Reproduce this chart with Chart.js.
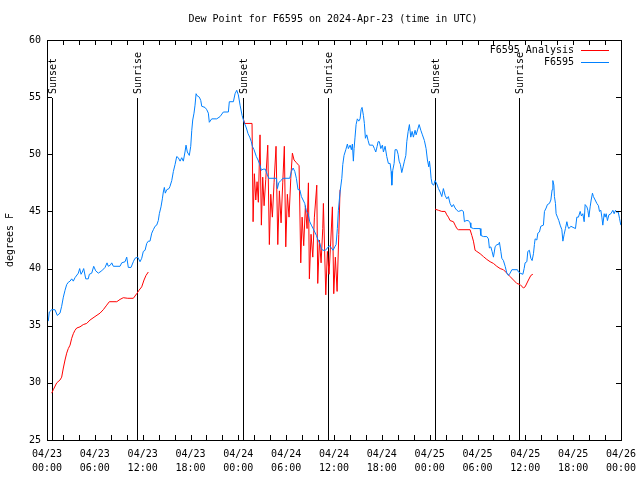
<!DOCTYPE html>
<html>
<head>
<meta charset="utf-8">
<title>Dew Point for F6595</title>
<script src="https://cdn.jsdelivr.net/npm/chart.js@4.4.1/dist/chart.umd.min.js"></script>
<style>
  html, body { margin: 0; padding: 0; background: #fff; }
  canvas { display: block; }
</style>
</head>
<body>
<canvas id="chart" width="640" height="480"></canvas>
<script>
// time is hours since 04/23 00:00 UTC
const obsHours = [
  0.16, 0.29, 0.59, 1.00, 1.29, 1.63, 1.84, 2.05, 2.26, 2.47,
  2.67, 2.89, 3.10, 3.30, 3.51, 3.93, 4.10, 4.27, 4.43, 4.60,
  4.86, 5.18, 5.31, 5.61, 5.86, 6.11, 6.44, 6.86, 7.28, 7.53,
  7.69, 7.94, 8.12, 8.32, 9.16, 9.37, 9.79, 10.00, 10.20, 10.54,
  10.83, 11.04, 11.38, 11.67, 11.88, 12.08, 12.30, 12.51, 12.71, 12.92,
  13.14, 13.34, 13.55, 13.76, 13.96, 14.09, 14.30, 14.47, 14.59, 14.72,
  14.84, 15.02, 15.31, 15.43, 15.65, 15.85, 16.06, 16.27, 16.47, 16.69,
  16.90, 17.10, 17.31, 17.44, 17.60, 17.85, 18.03, 18.16, 18.28, 18.44,
  18.57, 18.70, 18.86, 19.11, 19.29, 19.41, 19.82, 20.04, 20.24, 20.36,
  20.66, 21.29, 21.71, 22.12, 22.75, 22.87, 23.38, 23.59, 23.80, 24.00,
  24.22, 24.47, 24.72, 25.01, 25.22, 25.43, 25.63, 25.76, 25.97, 26.26,
  26.47, 26.69, 26.89, 27.10, 27.39, 27.64, 27.82, 28.77, 28.90, 29.07,
  29.32, 29.61, 30.45, 30.65, 30.87, 31.08, 31.28, 31.49, 31.71, 31.91,
  32.12, 32.33, 32.53, 32.75, 32.96, 33.16, 33.38, 33.59, 33.79, 34.00,
  34.22, 34.42, 34.63, 34.92, 35.17, 35.42, 35.67, 35.88, 36.10, 36.26,
  36.42, 36.55, 36.76, 36.98, 37.10, 37.26, 37.48, 37.68, 37.80, 38.02,
  38.18, 38.31, 38.43, 38.52, 38.64, 38.77, 38.93, 39.11, 39.27, 39.40,
  39.52, 39.69, 39.81, 39.94, 40.11, 40.28, 40.44, 40.87, 41.07, 41.24,
  41.41, 41.53, 41.69, 41.87, 42.07, 42.20, 42.41, 42.62, 42.82, 43.04,
  43.16, 43.25, 43.37, 43.54, 43.66, 43.88, 44.04, 44.17, 44.33, 44.50,
  44.67, 44.83, 45.01, 45.13, 45.30, 45.46, 45.63, 45.80, 45.96, 46.17,
  46.30, 46.51, 46.68, 46.89, 47.09, 47.34, 47.55, 47.72, 47.89, 47.97,
  48.06, 48.18, 48.31, 48.52, 48.68, 48.90, 49.10, 49.31, 49.52, 49.72,
  49.94, 50.15, 50.35, 50.56, 50.78, 50.98, 51.19, 51.41, 51.61, 52.03,
  52.23, 52.36, 52.57, 52.86, 53.07, 53.16, 53.49, 54.33, 54.42, 54.74,
  55.17, 55.37, 55.49, 55.67, 55.83, 56.00, 56.21, 56.42, 56.62, 56.75,
  56.93, 57.05, 57.25, 57.47, 57.68, 57.88, 58.09, 58.31, 59.01, 59.14,
  59.35, 59.69, 59.85, 59.97, 60.19, 60.31, 60.51, 60.69, 60.85, 61.02,
  61.14, 61.23, 61.44, 61.57, 61.77, 61.94, 62.27, 62.40, 62.61, 62.77,
  63.02, 63.20, 63.36, 63.45, 63.58, 63.65, 63.78, 63.86, 64.03, 64.20,
  64.37, 64.58, 64.71, 64.87, 65.03, 65.21, 65.33, 65.46, 65.71, 66.29,
  66.46, 66.66, 66.88, 67.04, 67.21, 67.38, 67.50, 67.72, 67.84, 67.97,
  68.13, 68.26, 68.42, 68.54, 68.76, 68.97, 69.17, 69.30, 69.47, 69.60,
  69.72, 69.89, 70.01, 70.14, 70.30, 70.48, 70.73, 70.98, 71.14, 71.31,
  71.48, 71.64, 71.81, 71.98
];
const obsDew = [
  35.4, 36.2, 36.4, 36.4, 35.9, 36.1, 36.7, 37.5, 38.1, 38.6,
  38.8, 38.9, 39.1, 38.9, 39.2, 39.6, 40.0, 39.5, 39.7, 40.0,
  39.1, 39.1, 39.5, 39.6, 40.2, 39.8, 39.6, 39.8, 40.1, 40.5,
  40.2, 40.3, 40.5, 40.2, 40.2, 40.5, 40.6, 41.0, 40.1, 40.1,
  40.6, 40.9, 41.0, 40.6, 40.9, 41.5, 41.6, 42.2, 42.4, 42.4,
  43.1, 43.4, 43.7, 43.8, 44.2, 44.8, 45.4, 46.1, 46.7, 47.1,
  46.6, 46.9, 47.0, 47.2, 47.7, 48.5, 49.1, 49.8, 49.7, 49.4,
  49.7, 49.4, 50.2, 50.8, 50.2, 49.9, 50.7, 52.1, 53.0, 53.6,
  54.3, 55.3, 55.1, 55.0, 54.7, 54.2, 54.1, 53.9, 53.6, 52.8,
  53.1, 53.1, 53.3, 53.7, 53.7, 54.6, 54.6, 55.3, 55.6, 55.2,
  54.3, 53.4, 52.8, 52.3, 51.8, 51.5, 51.1, 50.7, 50.4, 49.8,
  49.5, 49.1, 48.6, 48.7, 48.7, 48.2, 47.9, 47.9, 47.0, 47.5,
  47.7, 47.9, 47.9, 48.5, 48.8, 48.5, 47.9, 46.9, 46.9, 46.3,
  46.0, 45.7, 45.0, 44.8, 44.1, 43.8, 43.5, 43.2, 42.9, 42.5,
  42.2, 41.7, 41.6, 41.6, 41.8, 42.0, 41.8, 41.6, 41.9, 42.1,
  43.5, 45.1, 46.7, 47.9, 49.1, 49.9, 50.4, 50.9, 50.5, 50.8,
  50.4, 50.9, 49.4, 50.5, 51.5, 52.6, 53.1, 52.9, 53.1, 53.9,
  54.1, 53.4, 52.7, 51.4, 51.7, 51.2, 50.8, 50.8, 50.5, 50.2,
  50.7, 51.1, 51.1, 50.5, 50.8, 50.2, 50.7, 49.8, 49.2, 49.2,
  48.5, 47.3, 48.6, 49.2, 50.4, 50.4, 50.0, 49.4, 49.1, 48.4,
  48.9, 49.4, 49.9, 51.1, 52.0, 52.6, 51.5, 52.0, 51.5, 52.1,
  51.7, 52.2, 52.6, 52.1, 51.7, 51.2, 50.5, 49.5, 48.9, 49.4,
  48.9, 47.9, 47.4, 47.3, 47.7, 47.4, 47.0, 46.7, 46.3, 47.0,
  46.4, 46.1, 46.3, 45.7, 45.4, 45.6, 45.3, 45.1, 45.0, 45.1,
  45.0, 44.1, 44.2, 44.2, 44.0, 43.6, 43.5, 43.5, 42.9, 42.8,
  42.8, 42.6, 41.8, 41.9, 41.5, 41.0, 41.9, 42.1, 42.1, 42.3,
  41.5, 40.9, 40.7, 40.2, 39.6, 39.4, 39.6, 39.9, 39.9, 39.7,
  39.6, 39.5, 40.0, 40.5, 40.6, 41.5, 41.6, 40.9, 40.7, 41.3,
  42.1, 42.6, 42.5, 43.1, 43.2, 43.7, 43.8, 45.0, 45.3, 45.6,
  45.7, 46.0, 46.9, 47.7, 47.3, 46.3, 45.7, 44.8, 44.5, 44.2,
  43.8, 43.4, 42.4, 43.0, 43.5, 44.1, 43.7, 43.5, 43.7, 43.5,
  44.5, 44.5, 45.0, 44.6, 44.8, 44.1, 45.6, 45.4, 45.1, 44.5,
  45.4, 46.0, 46.6, 46.3, 46.0, 45.7, 45.5, 45.0, 45.1, 44.5,
  43.8, 44.8, 44.5, 44.8, 44.2, 44.7, 44.8, 45.1, 44.8, 45.1,
  44.9, 45.0, 44.4, 43.8
];

// analysis runs, a null value breaks the line between runs
const anaHours = [
  0.59, 0.79, 1.22, 1.63, 1.84, 2.05, 2.26, 2.47, 2.67, 2.89,
  3.10, 3.30, 3.51, 3.73, 4.14, 4.55, 4.98, 5.40, 6.02, 6.65,
  7.06, 7.49, 7.82, 8.75, 9.16, 9.57, 10.13, 10.83, 11.25, 11.54,
  11.88, 12.17, 12.42, 12.71,
  18.0,
  24.63, 24.80, 25.72, 25.85, 26.01, 26.19, 26.35, 26.51, 26.72, 26.89,
  27.06, 27.23, 27.44, 27.69, 27.89, 28.07, 28.27, 28.48, 28.73, 28.95,
  29.15, 29.36, 29.57, 29.77, 29.95, 30.15, 30.36, 30.58, 30.78, 30.99,
  31.24, 31.62, 31.83, 32.00, 32.20, 32.41, 32.62, 32.79, 32.91, 33.12,
  33.34, 33.54, 33.84, 33.96, 34.17, 34.38, 34.59, 34.67, 34.97, 35.17,
  35.38, 35.60, 35.80, 35.97, 36.17, 36.39, 36.60, 36.76,
  42.0,
  48.68, 49.10, 49.52, 49.94, 50.15, 50.35, 50.56, 50.98, 51.19, 51.41,
  51.61, 53.07, 53.29, 53.49, 53.70, 53.91, 54.33, 54.74, 55.17, 55.58,
  56.00, 56.42, 56.84, 57.25, 57.68, 58.09, 58.51, 58.93, 59.35, 59.76,
  59.97, 60.39, 60.69, 60.94
];
const anaDew = [
  29.1, 29.4, 30.0, 30.25, 30.5, 31.3, 32.0, 32.6, 33.0, 33.3,
  33.9, 34.3, 34.6, 34.8, 34.9, 35.1, 35.2, 35.5, 35.8, 36.1,
  36.4, 36.8, 37.1, 37.1, 37.3, 37.45, 37.4, 37.4, 37.8, 38.1,
  38.4, 39.0, 39.4, 39.7,
  null,
  53.1, 52.7, 52.7, 44.1, 48.3, 46.0, 47.6, 45.8, 51.7, 43.8,
  48.0, 45.5, 47.8, 50.8, 42.1, 46.5, 44.5, 47.5, 50.7, 42.1,
  46.8, 44.0, 47.5, 50.7, 41.9, 46.5, 44.5, 47.9, 50.1, 49.5,
  49.3, 49.0, 40.5, 44.5, 42.0, 45.5, 43.5, 47.5, 39.1, 43.0,
  41.0, 44.5, 47.3, 38.7, 42.5, 40.5, 43.5, 45.7, 37.7, 41.5,
  39.5, 42.5, 45.4, 37.8, 41.0, 38.0, 43.0, 46.9,
  null,
  45.2, 45.1, 45.0, 45.0, 44.7, 44.5, 44.2, 44.1, 43.8, 43.5,
  43.4, 43.4, 42.9, 42.4, 41.6, 41.5, 41.3, 41.05, 40.8, 40.6,
  40.45, 40.2, 40.0, 39.9, 39.6, 39.3, 39.0, 38.7, 38.6, 38.3,
  38.4, 39.0, 39.4, 39.5
];

const sunsetHours = [0.59, 24.63, 48.72];
const sunriseHours = [11.24, 35.25, 59.22];

const yTicks = [25, 30, 35, 40, 45, 50, 55, 60];
const xTickLabels = [
  ['04/23', '00:00'], ['04/23', '06:00'], ['04/23', '12:00'], ['04/23', '18:00'],
  ['04/24', '00:00'], ['04/24', '06:00'], ['04/24', '12:00'], ['04/24', '18:00'],
  ['04/25', '00:00'], ['04/25', '06:00'], ['04/25', '12:00'], ['04/25', '18:00'],
  ['04/26', '00:00']
];

const MONO = '"DejaVu Sans Mono", "Liberation Mono", monospace';
const FONT = '10px ' + MONO;

const pairs = (xs, ys) => xs.map((x, i) => ({ x: x, y: ys[i] }));

// gnuplot look: boxed plot, inward tics, sun event markers, own title and key
const gnuplotFrame = {
  id: 'gnuplotFrame',
  beforeDatasetsDraw(chart) {
    const { ctx, chartArea: a, scales: { x } } = chart;
    ctx.save();
    ctx.strokeStyle = '#000';
    ctx.fillStyle = '#000';
    ctx.lineWidth = 1;
    ctx.font = FONT;
    const events = sunsetHours.map(h => [h, 'Sunset'])
      .concat(sunriseHours.map(h => [h, 'Sunrise']));
    events.forEach(([h, label]) => {
      const px = Math.round(x.getPixelForValue(h)) + 0.5;
      ctx.beginPath();
      ctx.moveTo(px, a.top + 58);
      ctx.lineTo(px, a.bottom);
      ctx.stroke();
      ctx.save();
      ctx.translate(px + 1, a.top + 54);
      ctx.rotate(-Math.PI / 2);
      ctx.textAlign = 'left';
      ctx.textBaseline = 'middle';
      ctx.fillText(label, 0, 0);
      ctx.restore();
    });
    ctx.restore();
  },
  afterDraw(chart) {
    const { ctx, chartArea: a, scales: { x, y } } = chart;
    ctx.save();
    ctx.strokeStyle = '#000';
    ctx.fillStyle = '#000';
    ctx.lineWidth = 1;

    ctx.strokeRect(a.left + 0.5, a.top + 0.5, a.right - a.left, a.bottom - a.top);

    ctx.beginPath();
    for (let h = 0; h <= 72; h += 2) {
      const px = Math.round(x.getPixelForValue(h)) + 0.5;
      ctx.moveTo(px, a.bottom); ctx.lineTo(px, a.bottom - 5);
      ctx.moveTo(px, a.top); ctx.lineTo(px, a.top + 5);
    }
    yTicks.forEach(v => {
      const py = Math.round(y.getPixelForValue(v)) + 0.5;
      ctx.moveTo(a.left, py); ctx.lineTo(a.left + 5, py);
      ctx.moveTo(a.right, py); ctx.lineTo(a.right - 5, py);
    });
    ctx.stroke();

    ctx.font = FONT;
    ctx.textBaseline = 'middle';
    ctx.textAlign = 'center';
    ctx.fillText('Dew Point for F6595 on 2024-Apr-23 (time in UTC)', 333, 19);

    ctx.save();
    ctx.translate(10, 240);
    ctx.rotate(-Math.PI / 2);
    ctx.fillText('degrees F', 0, 0);
    ctx.restore();

    // key
    const keys = [['F6595 Analysis', '#ff0000', 50], ['F6595', '#0080ff', 62]];
    keys.forEach(([label, color, ky]) => {
      ctx.textAlign = 'right';
      ctx.fillStyle = '#000';
      ctx.fillText(label, 574, ky);
      ctx.strokeStyle = color;
      ctx.beginPath();
      ctx.moveTo(581, ky + 0.5);
      ctx.lineTo(609, ky + 0.5);
      ctx.stroke();
    });
    ctx.restore();
  }
};

new Chart(document.getElementById('chart'), {
  type: 'line',
  data: {
    datasets: [
      {
        label: 'F6595',
        data: pairs(obsHours, obsDew),
        borderColor: '#0080ff',
        borderWidth: 1,
        pointRadius: 0,
        tension: 0,
        fill: false
      },
      {
        label: 'F6595 Analysis',
        data: pairs(anaHours, anaDew),
        borderColor: '#ff0000',
        borderWidth: 1,
        pointRadius: 0,
        tension: 0,
        fill: false,
        spanGaps: false
      }
    ]
  },
  options: {
    responsive: false,
    animation: false,
    events: [],
    layout: { padding: { top: 40, right: 19, left: 0, bottom: 0 } },
    plugins: {
      legend: { display: false },
      title: { display: false },
      tooltip: { enabled: false }
    },
    scales: {
      x: {
        type: 'linear',
        min: 0,
        max: 72,
        grid: { display: false, drawTicks: false },
        border: { display: false },
        afterBuildTicks: s => { s.ticks = xTickLabels.map((_, i) => ({ value: i * 6 })); },
        ticks: {
          autoSkip: false,
          maxRotation: 0,
          padding: 7,
          color: '#000',
          font: { family: MONO, size: 10, lineHeight: 1.45 },
          callback: v => xTickLabels[Math.round(v / 6)]
        },
        afterFit: s => { s.height = 40; s.paddingLeft = 0; s.paddingRight = 0; }
      },
      y: {
        min: 25,
        max: 60,
        grid: { display: false, drawTicks: false },
        border: { display: false },
        afterBuildTicks: s => { s.ticks = yTicks.map(v => ({ value: v })); },
        ticks: {
          padding: 6,
          color: '#000',
          font: { family: MONO, size: 10 },
          callback: v => String(v)
        },
        afterFit: s => { s.width = 47; s.paddingTop = 0; s.paddingBottom = 0; }
      }
    }
  },
  plugins: [gnuplotFrame]
});
</script>
</body>
</html>
